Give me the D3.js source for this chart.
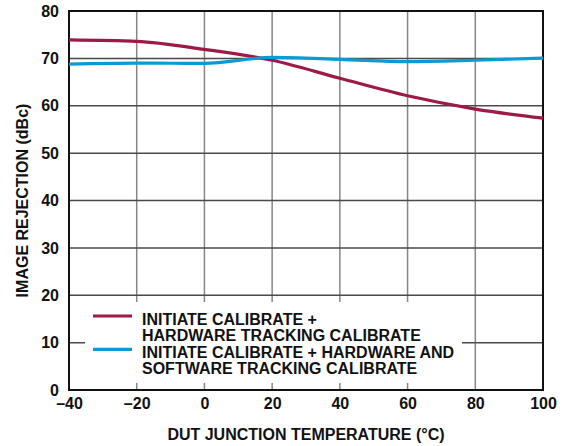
<!DOCTYPE html>
<html><head><meta charset="utf-8">
<script src="https://cdn.jsdelivr.net/npm/d3@7"></script>
<style>body{margin:0;background:#fff}svg{display:block}text{font-family:"Liberation Sans",Arial,sans-serif;font-weight:bold;fill:#111}</style>
</head><body><svg id="c" width="569" height="446"></svg>
<script>
const temps = [-40, -20, 0, 20, 40, 60, 80, 100];
const hwOnly = [73.9, 73.6, 71.9, 69.6, 65.8, 62.1, 59.3, 57.4];
const hwSw = [68.8, 69.0, 68.95, 70.2, 69.8, 69.3, 69.6, 70.05];
const xTicks = [-40, -20, 0, 20, 40, 60, 80, 100];
const yTicks = [0, 10, 20, 30, 40, 50, 60, 70, 80];
const seriesNames = [["INITIATE CALIBRATE +", "HARDWARE TRACKING CALIBRATE"], ["INITIATE CALIBRATE + HARDWARE AND", "SOFTWARE TRACKING CALIBRATE"]];
const colors = ["#9c1a45", "#0a9bd5"];
const xTitle = "DUT JUNCTION TEMPERATURE (°C)";
const yTitle = "IMAGE REJECTION (dBc)";

const svg = d3.select("#c");
const x = d3.scaleLinear([-40, 100], [69, 543]);
const y = d3.scaleLinear([0, 80], [390, 11]);

// grid
svg.append("g").selectAll("line").data(xTicks.slice(1, -1)).join("line")
  .attr("x1", d => x(d)).attr("x2", d => x(d)).attr("y1", y(80)).attr("y2", y(0))
  .attr("stroke", "#868686").attr("stroke-width", 1.5);
svg.append("g").selectAll("line").data(yTicks.slice(1, -1)).join("line")
  .attr("x1", x(-40)).attr("x2", x(100)).attr("y1", d => y(d)).attr("y2", d => y(d))
  .attr("stroke", "#4a4a4a").attr("stroke-width", 1.5);

// legend box
svg.append("rect").attr("x", 85).attr("y", 302).attr("width", 377).attr("height", 81).attr("fill", "#fff");

// frame
svg.append("rect").attr("x", x(-40)).attr("y", y(80)).attr("width", x(100) - x(-40)).attr("height", y(0) - y(80))
  .attr("fill", "none").attr("stroke", "#111").attr("stroke-width", 2);

// axes
const fmt = d => d < 0 ? "\u2013" + Math.abs(d) : String(d);
const ax = svg.append("g").attr("transform", `translate(0,${y(0)})`)
  .call(d3.axisBottom(x).tickValues(xTicks).tickSize(0).tickPadding(8).tickFormat(fmt));
const ay = svg.append("g").attr("transform", `translate(${x(-40)},0)`)
  .call(d3.axisLeft(y).tickValues(yTicks).tickSize(0).tickPadding(10));
[ax, ay].forEach(g => { g.select(".domain").remove(); g.selectAll("text").attr("font-size", 16).attr("font-weight", "bold").attr("fill", "#111").attr("font-family", "Liberation Sans, Arial, sans-serif"); });

// lines
const line = d3.line().x(d => x(d[0])).y(d => y(d[1])).curve(d3.curveMonotoneX);
[hwOnly, hwSw].forEach((s, i) => {
  svg.append("path").datum(temps.map((t, j) => [t, s[j]])).attr("d", line)
    .attr("fill", "none").attr("stroke", colors[i]).attr("stroke-width", 3.2).attr("stroke-linejoin", "round");
});

// legend
const lg = svg.append("g");
seriesNames.forEach((lines, i) => {
  const b0 = 324.5 + i * 33.3;
  lg.append("line").attr("x1", 93).attr("x2", 132).attr("y1", b0 - 8.5).attr("y2", b0 - 8.5)
    .attr("stroke", colors[i]).attr("stroke-width", 3.2);
  lines.forEach((t, k) => {
    lg.append("text").attr("x", 142).attr("y", b0 + k * 16.3).attr("font-size", 16).text(t);
  });
});

// titles
svg.append("text").attr("x", (x(-40) + x(100)) / 2).attr("y", 440).attr("text-anchor", "middle").attr("font-size", 16).text(xTitle);
svg.append("text").attr("transform", `translate(27.5,${(y(0) + y(80)) / 2}) rotate(-90)`).attr("text-anchor", "middle").attr("font-size", 16).text(yTitle);
</script></body></html>
